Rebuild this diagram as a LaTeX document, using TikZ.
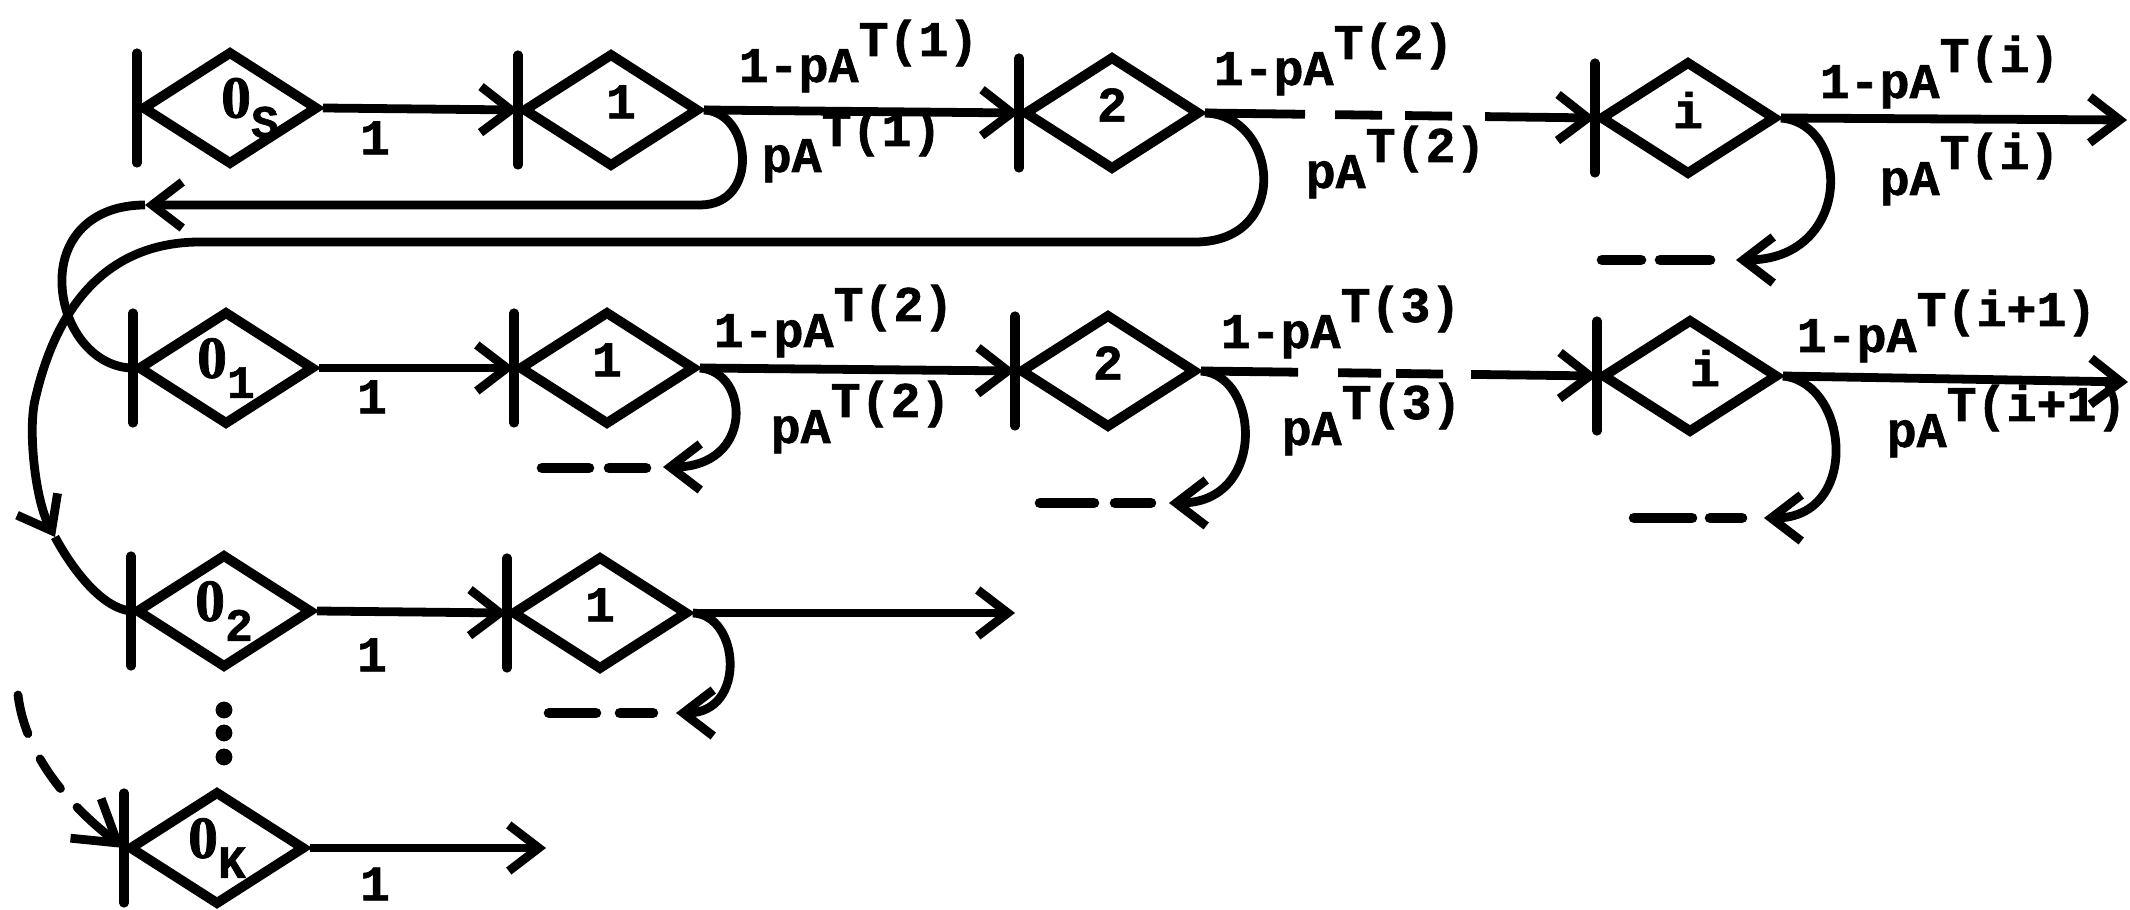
\documentclass[tikz,border=0pt]{standalone}
\usepackage{fontspec}
\usetikzlibrary{arrows.meta,shapes.geometric}
\newfontfamily\tw{Liberation Mono}[BoldFeatures={FakeBold=1.2}]
\newfontfamily\twz{Liberation Serif}[BoldFeatures={FakeBold=1.2}]
\newcommand\twf{\tw\bfseries\fontsize{14.2}{17}\selectfont}
\newcommand\supT[1]{\raisebox{0.26cm}{#1}}
\newcommand\subtw[1]{\raisebox{-0.2cm}{\fontsize{13.2}{14}\selectfont #1}}
% plain oval zero used for the origin states
\newcommand\zro{{\twz\bfseries\fontsize{17}{18}\selectfont 0}}

\begin{document}
\begin{tikzpicture}[x=0.01cm,y=-0.01cm,
  dia/.style={shape=diamond, draw, line width=2.8pt, minimum width=1.76cm,
              minimum height=1.14cm, inner sep=0pt},
  dnum/.style={font=\twf, inner sep=0pt, yshift=0.08cm},
  dzero/.style={font=\twf, inner sep=0pt},
  bar/.style={line width=2.6pt, line cap=round},
  wire/.style={line width=2.5pt},
  conn/.style={wire, -{Straight Barb[length=3mm,width=4.6mm]}},
  elab/.style={font=\twf, inner sep=0pt, anchor=base west},
  onelab/.style={font=\twf, inner sep=0pt},
  edash/.style={line width=3pt, line cap=round},
]
\useasboundingbox (0,0) rectangle (2130,910);

% stage diamonds
\node[dia] (Os)  at (230,108)  {};
\node[dia] (n11) at (611,110)  {};
\node[dia] (n12) at (1112,113) {};
\node[dia] (n1i) at (1688,118) {};
\node[dia] (O1)  at (226,368)  {};
\node[dia] (n21) at (607,368)  {};
\node[dia] (n22) at (1108,371) {};
\node[dia] (n2i) at (1690,376) {};
\node[dia] (O2)  at (224,611)  {};
\node[dia] (n31) at (600,613)  {};
\node[dia] (OK)  at (217,848)  {};

% entry bars on the left vertex of every diamond
\foreach \n in {Os,n11,n12,n1i,O1,n21,n22,n2i,O2,n31,OK}
  \draw[bar] ([yshift=-0.55cm]\n.west) -- ([yshift=0.55cm]\n.west);

% texts inside the diamonds
\node[dzero, xshift=0.2cm] at (Os) {\zro\subtw{S}};
\node[dzero] at (O1) {\zro\subtw{1}};
\node[dzero] at (O2) {\zro\subtw{2}};
\node[dzero] at (OK) {\zro\subtw{K}};
\node[dnum, xshift=0.1cm]  at (n11) {1};
\node[dnum]                at (n12) {2};
\node[dnum]                at (n1i) {i};
\node[dnum]                at (n21) {1};
\node[dnum]                at (n22) {2};
\node[dnum, xshift=0.15cm] at (n2i) {i};
\node[dnum]                at (n31) {1};

% free ends
\coordinate (e1) at (2127,120);
\coordinate (e2) at (2128,382);
\coordinate (e3) at (1015,613);
\coordinate (e4) at (546,848);

% forward transitions
\draw[conn] (Os.east) -- (n11.west);
\draw[conn] (n11.east) -- (n12.west);
\draw[conn, dash pattern=on 1cm off 0.3cm on 0.47cm off 0.23cm on 0.47cm off 0.33cm on 5cm]
  (n12.east) -- (n1i.west);
\draw[conn] (n1i.east) -- (e1);

\draw[conn] (O1.east) -- (n21.west);
\draw[conn] (n21.east) -- (n22.west);
\draw[conn, dash pattern=on 0.97cm off 0.4cm on 0.43cm off 0.15cm on 0.47cm off 0.28cm on 5cm]
  (n22.east) -- (n2i.west);
\draw[conn] (n2i.east) -- (e2);

\draw[conn] (O2.east) -- (n31.west);
\draw[conn] (n31.east) -- (e3);

\draw[conn] (OK.east) -- (e4);

% returns to O_1 and O_2
\coordinate (a1) at (145,205);
\draw[conn] (n11.east) .. controls (752,112) and (760,205) .. (700,205) -- (a1);
\draw[wire] (a1) .. controls (90,205) and (60,240) .. (62,285)
                 .. controls (64,330) and (95,368) .. (O1.west);

\coordinate (a2) at (55,537);
\draw[conn] (n12.east) .. controls (1278,115) and (1292,242) .. (1195,242) -- (200,242)
                 .. controls (120,242) and (60,290) .. (35,400)
                 .. controls (28,430) and (35,500) .. (a2);
\draw[wire] (a2) .. controls (70,565) and (100,608) .. (O2.west);

% returns leading to further rows
\coordinate (t1i) at (1736,260);
\draw[conn] (n1i.east) .. controls (1852,124) and (1852,260) .. (t1i);
\draw[edash] (1602,260) -- (1641,260);
\draw[edash] (1660,260) -- (1710,260);

\coordinate (t21) at (663,467);
\draw[conn] (n21.east) .. controls (750,372) and (754,467) .. (t21);
\draw[edash] (542,468) -- (589,468);
\draw[edash] (609,468) -- (646,468);

\coordinate (t22) at (1169,503);
\draw[conn] (n22.east) .. controls (1260,375) and (1267,503) .. (t22);
\draw[edash] (1040,503) -- (1094,503);
\draw[edash] (1115,503) -- (1151,503);

\coordinate (t2i) at (1764,518);
\draw[conn] (n2i.east) .. controls (1850,383) and (1860,518) .. (t2i);
\draw[edash] (1634,518) -- (1692,518);
\draw[edash] (1710,518) -- (1742,518);

\coordinate (t31) at (676,713);
\draw[conn] (n31.east) .. controls (740,615) and (747,713) .. (t31);
\draw[edash] (549,713) -- (596,713);
\draw[edash] (620,713) -- (653,713);

% dashed entry into O_K
\coordinate (k0) at (18,695);
\draw[wire, line cap=round, dash pattern=on 0.4cm off 0.28cm on 0.36cm off 0.25cm on 2cm,
      -{Straight Barb[length=4mm,width=5mm]}]
  (k0) .. controls (26,760) and (75,810) .. (OK.west);

% vertical ellipsis between O_2 and O_K
\fill (224,710) circle[radius=2.4pt];
\fill (224,733) circle[radius=2.4pt];
\fill (224,757) circle[radius=2.4pt];

% transition labels
\node[onelab] at (375,138) {1};
\node[onelab] at (372,397) {1};
\node[onelab] at (372,655) {1};
\node[onelab] at (375,884) {1};

\node[elab] at (738,82)   {1-pA\supT{T(1)}};
\node[elab] at (761,172)  {pA\supT{T(1)}};
\node[elab] at (1213,85)  {1-pA\supT{T(2)}};
\node[elab] at (1305,188) {pA\supT{T(2)}};
\node[elab] at (1819,98)  {1-pA\supT{T(i)}};
\node[elab] at (1879,195) {pA\supT{T(i)}};

\node[elab] at (713,347)  {1-pA\supT{T(2)}};
\node[elab] at (770,443)  {pA\supT{T(2)}};
\node[elab] at (1220,348) {1-pA\supT{T(3)}};
\node[elab] at (1281,445) {pA\supT{T(3)}};
\node[elab] at (1796,352) {1-pA\supT{T(i+1)}};
\node[elab] at (1886,447) {pA\supT{T(i+1)}};
\end{tikzpicture}
\end{document}
